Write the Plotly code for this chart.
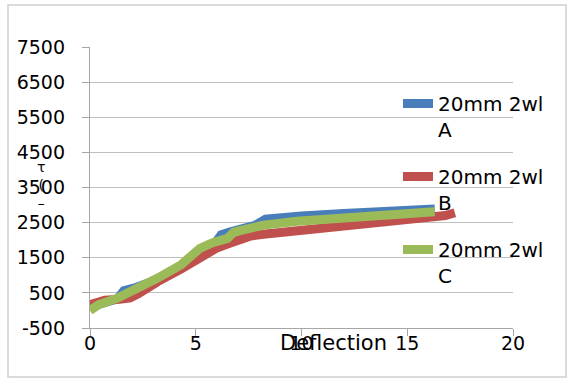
import plotly.graph_objects as go

# ---- data ----
series_names = ["20mm 2wl<br>A", "20mm 2wl<br>B", "20mm 2wl<br>C"]
series_colors = ["#4A7EBB", "#C0504D", "#9BBB59"]

a_x = [0, 0.4, 1.3, 1.6, 2.2, 3.2, 4.3, 5.2, 5.9, 6.2, 6.6, 7.2, 7.8, 8.3, 9.0, 10, 12, 14, 16.3]
a_y = [20, 170, 330, 560, 660, 880, 1260, 1710, 1900, 2150, 2230, 2330, 2420, 2600, 2660, 2690, 2760, 2820, 2890]

b_x = [0, 0.7, 1.4, 1.9, 2.3, 2.6, 3.2, 4.3, 5.2, 6.0, 6.6, 7.2, 7.6, 8.2, 10, 12, 14, 16.2, 16.8, 17.25]
b_y = [160, 290, 320, 360, 480, 600, 820, 1180, 1520, 1780, 1910, 2030, 2120, 2170, 2280, 2380, 2490, 2630, 2700, 2780]

c_x = [0, 0.4, 1.3, 1.8, 2.6, 3.2, 4.3, 5.2, 5.8, 6.5, 6.8, 7.4, 8.2, 9.8, 12, 14, 16.3]
c_y = [0, 160, 350, 500, 690, 920, 1300, 1770, 1930, 2050, 2230, 2340, 2430, 2540, 2640, 2720, 2810]

x_ticks = [0, 5, 10, 15, 20]
y_ticks = [-500, 500, 1500, 2500, 3500, 4500, 5500, 6500, 7500]
y_tick_text = ["-500", "500", "1500", "2500", "3500", "4500", "5500", "6500", "7500"]

x_title = "Deflection"
y_title_glyphs = "τ<br>(<br>–"

FONT = "DejaVu Sans"

fig = go.Figure()
for name, color, xs, ys in zip(series_names, series_colors, [a_x, b_x, c_x], [a_y, b_y, c_y]):
    fig.add_trace(go.Scatter(
        x=xs, y=ys, mode="lines", name=name, legendgroup=name,
        line=dict(color=color, width=9),
    ))

W, H = 567, 380
# desired plot area in page pixels: x 90..513, y 47..328
L, T = 90, 47
pw, ph = 423, 281
R = W - L - pw
B = H - T - ph

def px(xp):
    return (xp - L) / pw

def py(yp):
    return (T + ph - yp) / ph

fig.update_layout(
    width=W, height=H,
    margin=dict(l=L, r=R, t=T, b=B, autoexpand=False),
    paper_bgcolor="white", plot_bgcolor="white",
    font=dict(family=FONT, size=19, color="black"),
    showlegend=True,
    legend=dict(
        x=px(398), y=py(84), xanchor="left", yanchor="top",
        bgcolor="rgba(0,0,0,0)", font=dict(size=20, family=FONT),
        valign="top", tracegroupgap=18, itemwidth=30,
    ),
    xaxis=dict(
        range=[0, 20], tickvals=x_ticks, showgrid=False, zeroline=False,
        showline=True, linecolor="#A6A6A6", linewidth=1.3,
        ticks="outside", ticklen=7, tickcolor="#A6A6A6",
        tickfont=dict(size=19, family=FONT), ticklabelstandoff=-9,
        automargin=False,
    ),
    yaxis=dict(
        range=[-500, 7500], tickvals=y_ticks, ticktext=y_tick_text, showgrid=True,
        gridcolor="#BFBFBF", gridwidth=1.3, zeroline=False,
        showline=True, linecolor="#A6A6A6", linewidth=1.3,
        ticks="outside", ticklen=7, tickcolor="#A6A6A6",
        tickfont=dict(size=19, family=FONT), ticklabelstandoff=13,
        automargin=False,
    ),
    shapes=[dict(
        type="rect", xref="paper", yref="paper",
        x0=px(8), x1=px(566), y0=py(377), y1=py(5),
        line=dict(color="#CFCFCF", width=1.5), fillcolor="rgba(0,0,0,0)",
        layer="below",
    )],
    annotations=[
        dict(text=x_title, xref="paper", yref="paper", x=px(333), y=py(343),
             showarrow=False, xanchor="center", yanchor="middle",
             font=dict(size=21, family=FONT)),
        dict(text=y_title_glyphs, xref="paper", yref="paper", x=px(41), y=py(185),
             showarrow=False, xanchor="center", yanchor="middle",
             font=dict(size=14, family=FONT)),
    ],
)

fig.write_html(
    "out.html",
    config={"displayModeBar": False},
    post_script="document.body.style.margin='0';document.body.style.overflow='hidden';",
)
